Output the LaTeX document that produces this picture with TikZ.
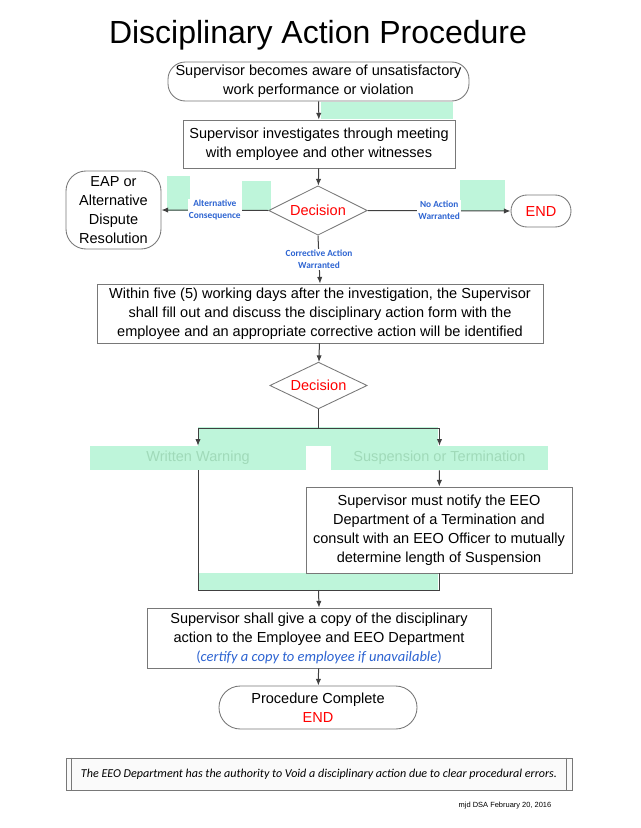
\documentclass[tikz,border=0pt]{standalone}
\usepackage{fontspec}
\setmainfont{Liberation Sans}
\newfontfamily\calibri{Carlito}
\usetikzlibrary{shapes, arrows.meta, positioning, backgrounds}

\definecolor{mint}{RGB}{190,245,218}
\definecolor{minttext}{RGB}{160,218,185}
\definecolor{lblblue}{RGB}{45,100,210}
\definecolor{boxgray}{RGB}{120,120,120}
\definecolor{linegray}{RGB}{64,64,64}

\begin{document}
\begin{tikzpicture}[
    x=0.75pt, y=-0.75pt,
    font=\fontsize{10.9}{14.3}\selectfont,
    block/.style={rectangle, draw=boxgray, line width=0.65pt, align=center, fill=white, inner sep=0pt},
    terminal/.style={block, rounded corners=#1},
    decision/.style={diamond, draw=boxgray, line width=0.65pt, aspect=2, inner sep=0pt, fill=white, text=red},
    outcome/.style={rectangle, fill=mint, text=minttext, inner sep=0pt, minimum width=162pt, minimum height=18pt},
    arrow/.style={-{Latex[length=5pt,width=4pt]}, draw=linegray, line width=0.75pt},
    line/.style={draw=linegray, line width=0.75pt},
    patch/.style={fill=mint},
    branchlbl/.style={font=\calibri\bfseries\fontsize{7}{9}\selectfont, text=lblblue, fill=white, align=center, inner sep=1pt}
]
    \useasboundingbox (0,0) rectangle (640,828);

    % Green patches
    \fill[patch] (321,102) rectangle (453,119);
    \fill[patch] (167,176) rectangle (190,211);
    \fill[patch] (242,181) rectangle (271,211);
    \fill[patch] (460,180) rectangle (505,211);
    \fill[patch] (198,427) rectangle (438,446);
    \fill[patch] (199,573) rectangle (438,590);

    % Title
    \node (title) at (318,35) {\fontsize{24}{28}\selectfont Disciplinary Action Procedure};

    % Investigation Nodes
    \node[terminal=13pt, minimum width=225.75pt, minimum height=29.25pt] (aware) at (318.5,81.5) {Supervisor becomes aware of unsatisfactory\\work performance or violation};
    \node[block, minimum width=204pt, minimum height=36pt] (investigate) at (319,144) {Supervisor investigates through meeting\\with employee and other witnesses};
    \node[decision, minimum width=74pt, minimum height=37pt] (decision_one) at (318,210.5) {Decision};
    \node[terminal=15pt, minimum width=71.25pt, minimum height=58.5pt] (eap) at (113.5,210) {EAP or\\Alternative\\Dispute\\Resolution};
    \node[terminal=12pt, minimum width=45pt, minimum height=24pt, text=red] (end_one) at (541,211) {END};

    % Corrective Action Nodes
    \node[block, minimum width=334.5pt, minimum height=44.25pt] (form) at (320,313.5) {Within five (5) working days after the investigation, the Supervisor\\shall fill out and discuss the disciplinary action form with the\\employee and an appropriate corrective action will be identified};
    \node[decision, minimum width=73pt, minimum height=35pt] (decision_two) at (318.5,385.5) {Decision};
    \node[outcome] (warning) at (198,458) {Written Warning};
    \node[outcome, minimum width=162.75pt] (suspension) at (439.5,458) {Suspension or Termination};
    \node[block, minimum width=199.5pt, minimum height=64.5pt] (notify) at (439,530) {Supervisor must notify the EEO\\Department of a Termination and\\consult with an EEO Officer to mutually\\determine length of Suspension};
    \node[block, minimum width=258pt, minimum height=45pt] (copy) at (319,638) {Supervisor shall give a copy of the disciplinary\\action to the Employee and EEO Department\\{\calibri\color{lblblue}(\textit{certify a copy to employee if unavailable})}};
    \node[terminal=16pt, minimum width=148.5pt, minimum height=32.25pt] (complete) at (318,707.5) {Procedure Complete\\\textcolor{red}{END}};

    % Footer
    \node[block, fill=gray!4, minimum width=379.5pt, minimum height=24pt] (note) at (319,774) {\calibri\itshape\fontsize{9.05}{11}\selectfont The EEO Department has the authority to Void a disciplinary action due to clear procedural errors.};
    \draw[boxgray, line width=0.65pt] ([xshift=4.5pt]note.north west) -- ([xshift=4.5pt]note.south west);
    \draw[boxgray, line width=0.65pt] ([xshift=-4.5pt]note.north east) -- ([xshift=-4.5pt]note.south east);
    \node (stamp) at (505,806) {\fontsize{5.6}{7}\selectfont mjd DSA February 20, 2016};

    % Edges
    \draw[arrow] (aware) -- (investigate);
    \draw[arrow] (investigate) -- (decision_one);
    \draw[arrow] (decision_one.west) -- node[branchlbl] {Alternative\\Consequence} (eap.east);
    \draw[arrow] (decision_one.east) -- node[branchlbl] {No Action\\Warranted} (end_one.west);
    \draw[arrow] (decision_one.south) -- node[branchlbl] {Corrective Action\\Warranted} (form.north);
    \draw[arrow] (form) -- (decision_two);

    % Split and merge
    \coordinate (split) at (318.5,428);
    \coordinate (merge) at (318.5,590);
    \draw[line] (decision_two.south) -- (split);
    \draw[arrow] (split) -| (warning.north);
    \draw[arrow] (split) -| (suspension.north);
    \draw[arrow] (suspension) -- (notify);
    \draw[line] (warning.south) |- (merge);
    \draw[line] (notify.south) |- (merge);
    \draw[arrow] (merge) -- (copy.north);
    \draw[arrow] (copy) -- (complete);

\end{tikzpicture}
\end{document}
